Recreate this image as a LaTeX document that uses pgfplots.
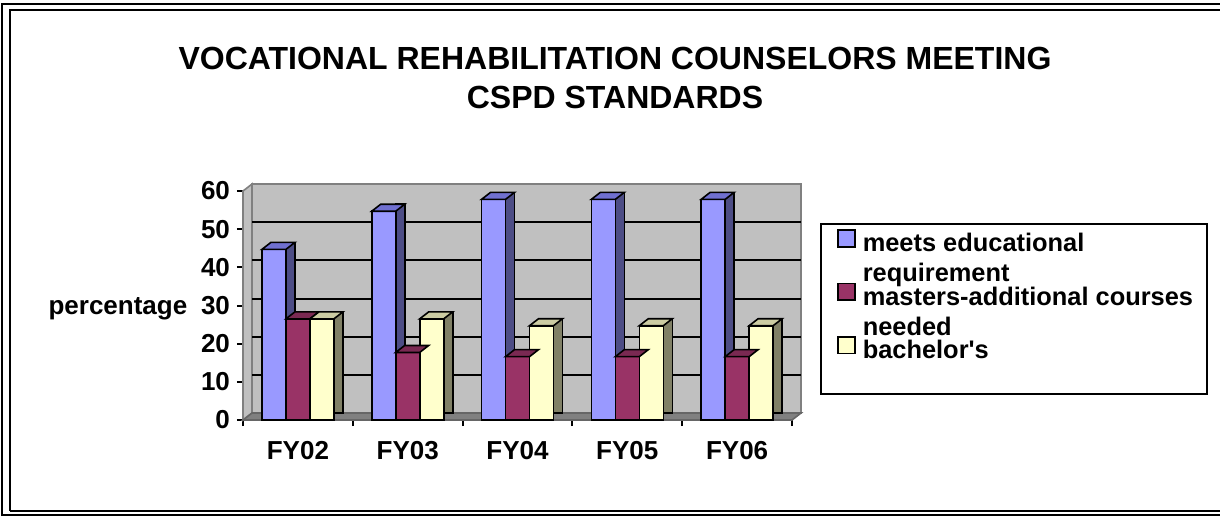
\documentclass[border=0pt]{standalone}
\usepackage{fontspec}
\setmainfont{Liberation Sans}
\usepackage{pgfplots}
\pgfplotsset{compat=1.18}
\usepackage{pgfplotstable}

\definecolor{bluef}{HTML}{9999FF}
\definecolor{bluet}{HTML}{7070D0}
\definecolor{blues}{HTML}{4D4D85}
\definecolor{magf}{HTML}{993366}
\definecolor{magt}{HTML}{7A2952}
\definecolor{mags}{HTML}{4D1A33}
\definecolor{yelf}{HTML}{FFFFCC}
\definecolor{yelt}{HTML}{CCCCA3}
\definecolor{yels}{HTML}{808066}
\definecolor{wallc}{HTML}{C0C0C0}
\definecolor{floorc}{HTML}{808080}
\tikzset{sh/.style={xshift=4.5pt,yshift=3.5pt}}

\pgfplotstableread{
x meets masters bachelors
0 44.7 26.5 26.5
1 54.7 17.7 26.5
2 57.8 16.6 24.7
3 57.8 16.6 24.7
4 57.8 16.6 24.7
}\datatable

\pgfdeclareplotmark{top3d}{%
  \pgfpathmoveto{\pgfpoint{-6pt}{0pt}}%
  \pgfpathlineto{\pgfpoint{6pt}{0pt}}%
  \pgfpathlineto{\pgfpoint{10.5pt}{3.5pt}}%
  \pgfpathlineto{\pgfpoint{-1.5pt}{3.5pt}}%
  \pgfpathclose
  \pgfusepathqfillstroke}

\begin{document}
\bfseries
\begin{tikzpicture}
\path[use as bounding box] (0,0) rectangle (610pt,-258pt);
% page frame
\draw[line width=1pt] (1pt,-258pt) -- (1pt,-2pt) -- (610pt,-2pt);
\draw[line width=1pt] (5pt,-255.5pt) -- (5pt,-4.75pt) -- (610pt,-4.75pt);
\draw[line width=1pt] (5pt,-255.5pt) -- (610pt,-255.5pt);
\draw[line width=1pt] (1pt,-257.6pt) -- (610pt,-257.6pt);
% title
\node[font=\fontsize{16}{20}\bfseries, anchor=base] at (307.5pt,-34.5pt) {VOCATIONAL REHABILITATION COUNSELORS MEETING};
\node[font=\fontsize{16}{20}\bfseries, anchor=base] at (307.5pt,-54pt) {CSPD STANDARDS};
% legend frame
\draw[line width=1pt] (410.5pt,-112pt) rectangle (603.5pt,-197pt);

\begin{axis}[
  at={(121.5pt,-210pt)}, anchor=south west,
  scale only axis, width=274.5pt, height=114.5pt,
  xmin=-0.5, xmax=4.5, ymin=0, ymax=60,
  clip=false,
  axis x line*=bottom, axis y line*=left,
  axis line style={line width=1pt, black},
  xtick={-0.5,0.5,...,4.5},
  xticklabels={FY02,FY03,FY04,FY05,FY06},
  x tick label as interval,
  xticklabel style={yshift=-4pt},
  ytick={0,10,...,60},
  tick align=outside, major tick length=3pt,
  tick style={line width=1pt, black},
  ticklabel style={font=\fontsize{13}{15}\bfseries},
  /pgf/number format/assume math mode=true,
  ylabel={percentage},
  every axis y label/.style={at={(ticklabel cs:0.5)}, anchor=east, yshift=-1.5pt, font=\fontsize{13}{15}\bfseries},
  legend style={at={(1.0546,0.856)}, anchor=north west, draw=none, fill=none,
     yshift=1pt, xshift=0.5pt,
     inner xsep=7pt, inner ysep=3.5pt, row sep=14pt, column sep=3.5pt,
     font=\fontsize{12.7}{15}\bfseries, nodes={inner sep=0pt}},
  legend cell align=left,
  legend image code/.code={\draw[#1,draw=black,line width=0.8pt] (0pt,-1.5pt) rectangle (8.4pt,6.9pt);},
]
% walls and floor
\filldraw[fill=wallc, draw=floorc, line width=0.8pt] ([sh]axis cs:-0.5,0) rectangle ([sh]axis cs:4.5,60);
\filldraw[fill=wallc, draw=floorc, line width=0.8pt] (axis cs:-0.5,0) -- (axis cs:-0.5,60) -- ([sh]axis cs:-0.5,60) -- ([sh]axis cs:-0.5,0) -- cycle;
\filldraw[fill=floorc, draw=floorc!80!black, line width=0.8pt] (axis cs:-0.5,0) -- (axis cs:4.5,0) -- ([sh]axis cs:4.5,0) -- ([sh]axis cs:-0.5,0) -- cycle;
\draw[black, line width=1pt] ([sh]axis cs:-0.5,10) -- ([sh]axis cs:4.5,10);
\draw[black, line width=1pt] ([sh]axis cs:-0.5,20) -- ([sh]axis cs:4.5,20);
\draw[black, line width=1pt] ([sh]axis cs:-0.5,30) -- ([sh]axis cs:4.5,30);
\draw[black, line width=1pt] ([sh]axis cs:-0.5,40) -- ([sh]axis cs:4.5,40);
\draw[black, line width=1pt] ([sh]axis cs:-0.5,50) -- ([sh]axis cs:4.5,50);

% meets
\addplot[ybar, bar width=4.5pt, bar shift=-3.75pt, yshift=3.5pt, fill=blues, draw=black, line width=0.8pt, forget plot] table[x=x, y=meets] {\datatable};
\addplot[ybar, bar width=12pt, bar shift=-12pt, fill=bluef, draw=black, line width=0.8pt] table[x=x, y=meets] {\datatable};
\addlegendentry{\rlap{\raisebox{-15pt}[0pt][0pt]{requirement}}meets educational}
\addplot[only marks, mark=top3d, xshift=-12pt, mark options={fill=bluet, draw=black, line width=0.8pt}, forget plot] table[x=x, y=meets] {\datatable};
% masters
\addplot[ybar, bar width=4.5pt, bar shift=8.25pt, yshift=3.5pt, fill=mags, draw=black, line width=0.8pt, forget plot] table[x=x, y=masters] {\datatable};
\addplot[ybar, bar width=12pt, bar shift=0pt, fill=magf, draw=black, line width=0.8pt] table[x=x, y=masters] {\datatable};
\addlegendentry{\rlap{\raisebox{-15pt}[0pt][0pt]{needed}}masters-additional courses}
\addplot[only marks, mark=top3d, mark options={fill=magt, draw=black, line width=0.8pt}, forget plot] table[x=x, y=masters] {\datatable};
% bachelors
\addplot[ybar, bar width=4.5pt, bar shift=20.25pt, yshift=3.5pt, fill=yels, draw=black, line width=0.8pt, forget plot] table[x=x, y=bachelors] {\datatable};
\addplot[ybar, bar width=12pt, bar shift=12pt, fill=yelf, draw=black, line width=0.8pt] table[x=x, y=bachelors] {\datatable};
\addlegendentry{bachelor\textquotesingle s}
\addplot[only marks, mark=top3d, xshift=12pt, mark options={fill=yelt, draw=black, line width=0.8pt}, forget plot] table[x=x, y=bachelors] {\datatable};
\end{axis}
\end{tikzpicture}
\end{document}
